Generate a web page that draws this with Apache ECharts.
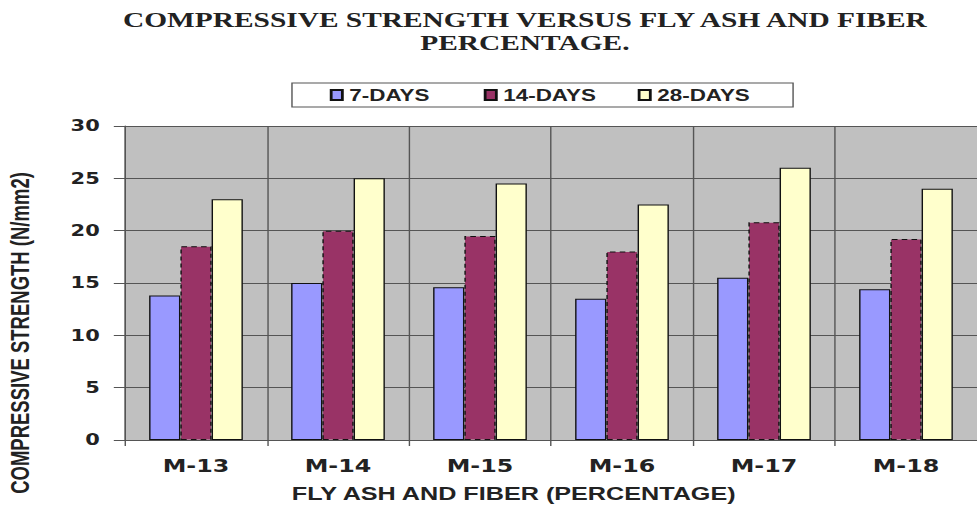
<!DOCTYPE html>
<html>
<head>
<meta charset="utf-8">
<script src="https://cdn.jsdelivr.net/npm/echarts@6/dist/echarts.min.js"></script>
<style>
html,body{margin:0;padding:0;background:#fff;overflow:hidden;}
#c{width:698px;height:507px;transform:scaleX(1.39971);transform-origin:0 0;}
</style>
</head>
<body>
<div id="c"></div>
<script>
// The source picture is stretched horizontally (~1.4x); the chart is drawn on a narrower canvas and stretched the same way.
const categories = ['M-13', 'M-14', 'M-15', 'M-16', 'M-17', 'M-18'];
const days7  = [13.8, 15.0, 14.6, 13.5, 15.5, 14.4];
const days14 = [18.5, 20.0, 19.5, 18.0, 20.8, 19.2];
const days28 = [23.0, 25.0, 24.5, 22.5, 26.0, 24.0];
const seriesNames = ['7-DAYS', '14-DAYS', '28-DAYS'];
const yTicks = {min: 0, max: 30, interval: 5};

const chart = echarts.init(document.getElementById('c'), null, {renderer: 'svg'});
const sans = '"Liberation Sans", Arial, sans-serif';
const verd = '"DejaVu Sans", Verdana, sans-serif';

chart.setOption({
  animation: false,
  backgroundColor: '#ffffff',
  title: {
    text: 'COMPRESSIVE STRENGTH VERSUS FLY ASH AND FIBER\nPERCENTAGE.',
    left: 370,
    textAlign: 'center',
    top: 4,
    textStyle: {
      fontFamily: '"Liberation Serif", "Times New Roman", serif',
      fontWeight: 'bold',
      fontSize: 21,
      lineHeight: 23,
      color: '#222'
    }
  },
  legend: {
    data: seriesNames,
    left: 208.6,
    top: 83,
    orient: 'horizontal',
    padding: [4, 27, 4, 27],
    itemGap: 26,
    itemWidth: 8,
    itemHeight: 10,
    icon: 'rect',
    borderColor: '#555',
    borderWidth: 1,
    backgroundColor: '#fff',
    textStyle: {
      fontFamily: sans,
      fontWeight: 'bold',
      fontSize: 16,
      color: '#222',
      width: 70,
      lineHeight: 16
    }
  },
  grid: {
    left: 89.3,
    right: -5.6,
    top: 126,
    bottom: 67,
    show: true,
    backgroundColor: '#c0c0c0',
    borderWidth: 0
  },
  xAxis: {
    type: 'category',
    data: categories,
    boundaryGap: true,
    axisLine: {show: true, lineStyle: {color: '#555', width: 1}},
    axisTick: {show: true, length: 6, lineStyle: {color: '#555'}},
    axisLabel: {
      margin: 18,
      fontFamily: verd,
      fontWeight: 'bold',
      fontSize: 17,
      color: '#222'
    },
    splitLine: {show: true, lineStyle: {color: '#555', width: 1}}
  },
  yAxis: {
    type: 'value',
    min: yTicks.min,
    max: yTicks.max,
    interval: yTicks.interval,
    axisLine: {show: true, lineStyle: {color: '#555', width: 1}},
    axisTick: {show: true, length: 8, lineStyle: {color: '#555'}},
    axisLabel: {
      margin: 18,
      fontFamily: verd,
      fontWeight: 'bold',
      fontSize: 15,
      color: '#222'
    },
    splitLine: {show: true, lineStyle: {color: '#555', width: 1}}
  },
  graphic: [
    {
      type: 'text',
      x: 14.3,
      y: 333,
      rotation: Math.PI / 2,
      style: {
        text: 'COMPRESSIVE STRENGTH (N/mm2)',
        fontFamily: sans,
        fontWeight: 'bold',
        fontSize: 18.5,
        fill: '#222',
        align: 'center',
        verticalAlign: 'middle'
      }
    },
    {
      type: 'text',
      x: 367,
      y: 494,
      style: {
        text: 'FLY ASH AND FIBER (PERCENTAGE)',
        fontFamily: sans,
        fontWeight: 'bold',
        fontSize: 18,
        fill: '#222',
        align: 'center',
        verticalAlign: 'middle'
      }
    }
  ],
  series: [
    {
      name: seriesNames[0],
      type: 'bar',
      data: days7,
      barGap: '0%',
      barCategoryGap: '34%',
      itemStyle: {color: '#9999ff', borderColor: '#111', borderWidth: 1}
    },
    {
      name: seriesNames[1],
      type: 'bar',
      data: days14,
      barGap: '0%',
      barCategoryGap: '34%',
      itemStyle: {color: '#993366', borderColor: '#111', borderWidth: 1, borderType: [4, 3]}
    },
    {
      name: seriesNames[2],
      type: 'bar',
      data: days28,
      barGap: '0%',
      barCategoryGap: '34%',
      itemStyle: {color: '#ffffcc', borderColor: '#111', borderWidth: 1}
    }
  ]
});
</script>
</body>
</html>
